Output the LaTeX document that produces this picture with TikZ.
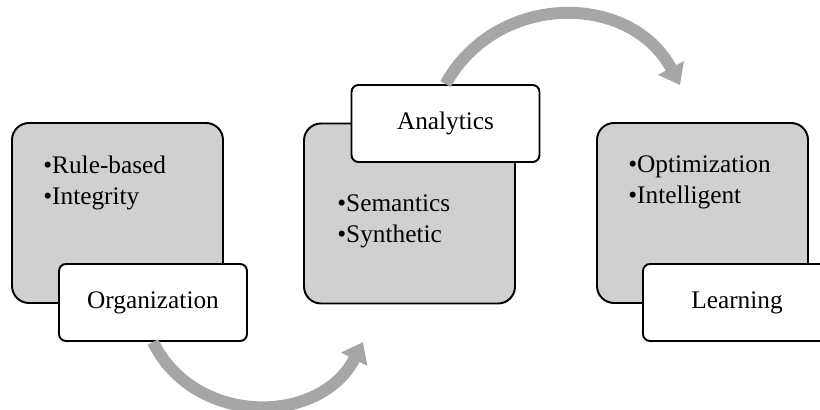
\documentclass[tikz,border=0pt]{standalone}
\usepackage{fontspec}
\setmainfont{Liberation Serif}
\usetikzlibrary{arrows.meta}
\tikzset{>=Stealth}
\definecolor{boxgray}{HTML}{D0D0D0}
\definecolor{flowgray}{HTML}{A6A6A6}

\begin{document}
\begin{tikzpicture}[x=2cm, y=2cm,
    font=\fontsize{14.4}{17.6}\selectfont,
    stage/.style={draw, line width=1.1pt, fill=boxgray, rounded corners=0.34cm,
        minimum width=4.22cm, minimum height=3.6cm},
    tag/.style={draw, line width=1.1pt, fill=white, rounded corners=0.14cm,
        minimum width=3.76cm, minimum height=1.54cm},
    items/.style={align=left, anchor=west, inner sep=0pt},
    flow/.style={draw=flowgray, line width=6.8pt, -{Triangle[length=11pt, width=16pt]}}]
    \useasboundingbox (0,0) rectangle (8.2,4.1);
    \node[stage] (orgbox) at (1.175,1.97) {};
    \node[stage] (anbox) at (4.095,1.965) {};
    \node[stage] (learnbox) at (7.025,1.97) {};
    \node[items] (orgitems) at (0.43,2.275) {\textbullet Rule-based\\\textbullet Integrity};
    \node[items] (anitems) at (3.37,1.89) {\textbullet Semantics\\\textbullet Synthetic};
    \node[items] (learnitems) at (6.28,2.275) {\textbullet Optimization\\\textbullet Intelligent};
    \node[tag] (org) at (1.53,1.075) {Organization};
    \node[tag] (an) at (4.455,2.865) {Analytics};
    \node[tag] (learn) at (7.37,1.075) {Learning};
    \coordinate (bt) at (3.63,0.68);
    \coordinate (tt) at (6.80,3.25);
    \draw[flow] (org.south) to [out=-64, in=-117, looseness=1.15] (bt);
    \draw[flow] (an.north) to [out=61, in=118, looseness=1.15] (tt);
\end{tikzpicture}
\end{document}
